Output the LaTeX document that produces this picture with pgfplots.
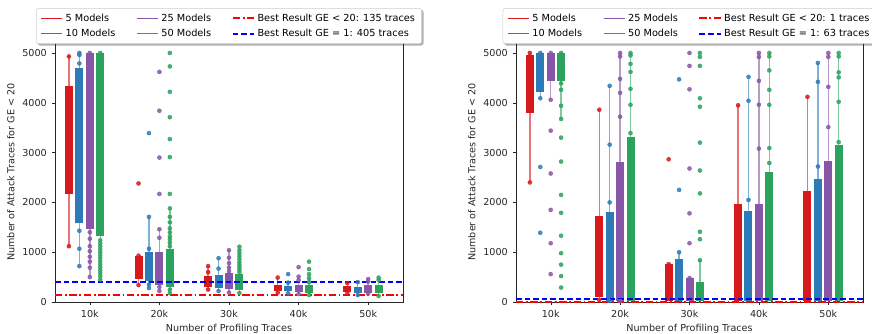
\documentclass[border=0pt]{standalone}
\usepackage{pgfplots}
\pgfplotsset{compat=1.18}
\usepackage{fontspec}
\setmainfont{DejaVu Sans}
\usetikzlibrary{backgrounds}
\definecolor{cR}{RGB}{215,25,28}
\definecolor{cB}{RGB}{44,123,182}
\definecolor{cP}{RGB}{136,86,167}
\definecolor{cG}{RGB}{44,162,95}
\definecolor{lR}{RGB}{255,0,0}
\definecolor{lB}{RGB}{0,0,255}
\tikzset{ddot/.style={lR, line width=1.3pt, dash pattern=on 5.5pt off 2pt on 1.3pt off 2pt},
         ddash/.style={lB, line width=1.3pt, dash pattern=on 4.2pt off 2.2pt}}
% color, x, lo, q1, q3, hi, dots
\newcommand{\bx}[7]{%
  \addplot[#1, opacity=0.6, line width=1.1pt, forget plot] coordinates {(#2,#3) (#2,#6)};
  \addplot[#1, line width=6pt, forget plot] coordinates {(#2,#4) (#2,#5)};
  \addplot[#1, only marks, mark=*, mark size=1.5pt, mark options={opacity=0.85}, forget plot] coordinates {#7};
}
\pgfplotsset{panel/.style={
  scale only axis, width=261pt, height=195pt,
  anchor=south west,
  xmin=-0.5, xmax=4.5, ymin=0, ymax=5220,
  xtick={0,1,2,3,4}, xticklabels={10k,20k,30k,40k,50k},
  ytick={0,1000,2000,3000,4000,5000},
  tick pos=left, tick align=outside, major tick length=2.6pt,
  axis line style={black!85}, tick style={black!85},
  /pgf/number format/assume math mode=true,
  /pgf/number format/set thousands separator={},
  tick label style={font=\fontsize{7.2}{8.6}\selectfont, text=black!85},
  label style={font=\fontsize{7.2}{8.6}\selectfont, text=black!85},
  xlabel={Number of Profiling Traces},
  ylabel={Number of Attack Traces for GE < 20},
  xlabel style={yshift=2pt}, ylabel style={yshift=-1pt},
  legend columns=3,
  legend cell align=left,
  legend style={at={(0.5,1.0)}, anchor=south, yshift=-1.5pt,
    font=\fontsize{7.3}{8.6}\selectfont,
    draw=black!20, fill=white, rounded corners=2pt,
    /tikz/every even column/.append style={column sep=13.5pt},
    row sep=0.5pt, inner xsep=3pt, inner ysep=2pt},
  legend image code/.code={\draw[#1] (0cm,0cm) -- (0.56cm,0cm);},
}}
\begin{document}
\begin{tikzpicture}[x=1pt,y=1pt]
\path[use as bounding box] (0,0) rectangle (654,249.75);
%%%%%%%%%%%%%%%% LEFT
\begin{axis}[panel, at={(41.25pt,23.25pt)}, legend style={name=legL}]
\addlegendimage{cR, line width=1.1pt}\addlegendentry{5 Models}
\addlegendimage{cP, line width=1.1pt}\addlegendentry{25 Models}
\addlegendimage{ddot}\addlegendentry{Best Result GE < 20: 135 traces}
\addlegendimage{cB, line width=1.1pt}\addlegendentry{10 Models}
\addlegendimage{cG, line width=1.1pt}\addlegendentry{50 Models}
\addlegendimage{ddash}\addlegendentry{Best Result GE = 1: 405 traces}
% 10k
\bx{cR}{-0.3}{1120}{2170}{4340}{4930}{(-0.3,1120) (-0.3,4930)}
\bx{cB}{-0.15}{720}{1580}{4690}{5000}{(-0.15,720) (-0.15,1070) (-0.15,1430) (-0.15,4790) (-0.15,4960) (-0.15,5000)}
\bx{cP}{0}{500}{1460}{5000}{5000}{(0,500) (0,690) (0,810) (0,910) (0,1020) (0,1120) (0,1270) (0,1400) (0,5000)}
\bx{cG}{0.15}{450}{1320}{5000}{5000}{(0.15,450) (0.15,520) (0.15,580) (0.15,640) (0.15,700) (0.15,760) (0.15,820) (0.15,880) (0.15,940) (0.15,1000) (0.15,1060) (0.15,1120) (0.15,1180) (0.15,1240) (0.15,5000)}
% 20k
\bx{cR}{0.7}{340}{460}{930}{930}{(0.7,340) (0.7,930) (0.7,2380)}
\bx{cB}{0.85}{280}{420}{1000}{1710}{(0.85,280) (0.85,350) (0.85,1070) (0.85,1710) (0.85,3390)}
\bx{cP}{1}{220}{350}{1000}{1460}{(1,220) (1,300) (1,1290) (1,1460) (1,2170) (1,2900) (1,3840) (1,4620)}
\bx{cG}{1.15}{180}{300}{1060}{1880}{(1.15,180) (1.15,250) (1.15,1120) (1.15,1190) (1.15,1260) (1.15,1320) (1.15,1400) (1.15,1480) (1.15,1600) (1.15,1710) (1.15,1880) (1.15,2170) (1.15,2910) (1.15,3270) (1.15,3710) (1.15,4220) (1.15,4730) (1.15,5000)}
% 30k
\bx{cR}{1.7}{250}{300}{520}{720}{(1.7,250) (1.7,600) (1.7,720)}
\bx{cB}{1.85}{220}{275}{540}{880}{(1.85,220) (1.85,670) (1.85,880)}
\bx{cP}{2}{190}{255}{575}{1040}{(2,190) (2,620) (2,690) (2,780) (2,890) (2,1040)}
\bx{cG}{2.15}{180}{240}{560}{1110}{(2.15,180) (2.15,600) (2.15,650) (2.15,700) (2.15,750) (2.15,800) (2.15,860) (2.15,920) (2.15,980) (2.15,1040) (2.15,1110)}
% 40k
\bx{cR}{2.7}{190}{230}{340}{490}{(2.7,190) (2.7,490)}
\bx{cB}{2.85}{175}{230}{330}{390}{(2.85,175) (2.85,390) (2.85,560)}
\bx{cP}{3}{160}{210}{340}{510}{(3,160) (3,440) (3,510) (3,700)}
\bx{cG}{3.15}{140}{190}{340}{480}{(3.15,140) (3.15,400) (3.15,480) (3.15,560) (3.15,660) (3.15,810)}
% 50k
\bx{cR}{3.7}{190}{210}{320}{380}{(3.7,190) (3.7,380)}
\bx{cB}{3.85}{140}{190}{310}{400}{(3.85,140) (3.85,400)}
\bx{cP}{4}{170}{190}{340}{460}{(4,170) (4,410) (4,460)}
\bx{cG}{4.15}{120}{190}{340}{490}{(4.15,120) (4.15,440) (4.15,490)}
\addplot[ddot, forget plot] coordinates {(-0.5,135) (4.5,135)};
\addplot[ddash, forget plot] coordinates {(-0.5,405) (4.5,405)};
\end{axis}
%%%%%%%%%%%%%%%% RIGHT
\begin{axis}[panel, at={(387pt,23.25pt)}, width=260.25pt, legend style={name=legR}]
\addlegendimage{cR, line width=1.1pt}\addlegendentry{5 Models}
\addlegendimage{cP, line width=1.1pt}\addlegendentry{25 Models}
\addlegendimage{ddot}\addlegendentry{Best Result GE < 20: 1 traces}
\addlegendimage{cB, line width=1.1pt}\addlegendentry{10 Models}
\addlegendimage{cG, line width=1.1pt}\addlegendentry{50 Models}
\addlegendimage{ddash}\addlegendentry{Best Result GE = 1: 63 traces}
% 10k
\bx{cR}{-0.3}{2400}{3790}{4960}{5000}{(-0.3,2400) (-0.3,5000)}
\bx{cB}{-0.15}{4090}{4210}{5000}{5000}{(-0.15,1390) (-0.15,2710) (-0.15,4090) (-0.15,5000)}
\bx{cP}{0}{4060}{4440}{5000}{5000}{(0,560) (0,1180) (0,1850) (0,2580) (0,3440) (0,4060) (0,5000)}
\bx{cG}{0.15}{3675}{4440}{5000}{5000}{(0.15,290) (0.15,520) (0.15,750) (0.15,980) (0.15,1330) (0.15,1790) (0.15,2150) (0.15,2820) (0.15,3300) (0.15,3675) (0.15,3940) (0.15,4260) (0.15,4390) (0.15,5000)}
% 20k
\bx{cR}{0.7}{40}{100}{1730}{3860}{(0.7,40) (0.7,3860)}
\bx{cB}{0.85}{20}{30}{1800}{4340}{(0.85,20) (0.85,2000) (0.85,3160) (0.85,4340)}
\bx{cP}{1}{20}{30}{2820}{5000}{(1,20) (1,3720) (1,4200) (1,4480) (1,4930) (1,5000)}
\bx{cG}{1.15}{20}{30}{3310}{5000}{(1.15,3390) (1.15,3960) (1.15,4280) (1.15,4620) (1.15,4780) (1.15,4950) (1.15,5000)}
% 30k
\bx{cR}{1.7}{20}{30}{760}{760}{(1.7,760) (1.7,2865)}
\bx{cB}{1.85}{20}{30}{860}{1000}{(1.85,1000) (1.85,2250) (1.85,4470)}
\bx{cP}{2}{20}{30}{480}{480}{(2,480) (2,1180) (2,1780) (2,2680) (2,4270) (2,4740) (2,5000)}
\bx{cG}{2.15}{20}{30}{400}{840}{(2.15,840) (2.15,1260) (2.15,1410) (2.15,2180) (2.15,2640) (2.15,3200) (2.15,3920) (2.15,4090) (2.15,4740) (2.15,4920) (2.15,5000)}
% 40k
\bx{cR}{2.7}{20}{30}{1960}{3950}{(2.7,3950)}
\bx{cB}{2.85}{20}{30}{1830}{4520}{(2.85,2050) (2.85,4040) (2.85,4520)}
\bx{cP}{3}{20}{30}{1975}{5000}{(3,3080) (3,3960) (3,4440) (3,4920) (3,5000)}
\bx{cG}{3.15}{20}{30}{2620}{5000}{(3.15,2790) (3.15,3090) (3.15,3960) (3.15,4260) (3.15,4650) (3.15,4930) (3.15,5000)}
% 50k
\bx{cR}{3.7}{20}{30}{2220}{4120}{(3.7,4120)}
\bx{cB}{3.85}{20}{30}{2470}{4800}{(3.85,2720) (3.85,4420) (3.85,4800)}
\bx{cP}{4}{20}{30}{2830}{5000}{(4,3510) (4,4320) (4,4920) (4,5000)}
\bx{cG}{4.15}{20}{30}{3150}{5000}{(4.15,3210) (4.15,4020) (4.15,4510) (4.15,4610) (4.15,4930) (4.15,5000)}
\addplot[ddot, forget plot] coordinates {(-0.5,1) (4.5,1)};
\addplot[ddash, forget plot] coordinates {(-0.5,63) (4.5,63)};
\end{axis}
\begin{scope}[on background layer]
\fill[black!30, rounded corners=2pt] ([shift={(1.2pt,-1.2pt)}]legL.south west) rectangle ([shift={(1.2pt,-1.2pt)}]legL.north east);
\fill[black!30, rounded corners=2pt] ([shift={(1.2pt,-1.2pt)}]legR.south west) rectangle ([shift={(1.2pt,-1.2pt)}]legR.north east);
\end{scope}
\end{tikzpicture}
\end{document}
